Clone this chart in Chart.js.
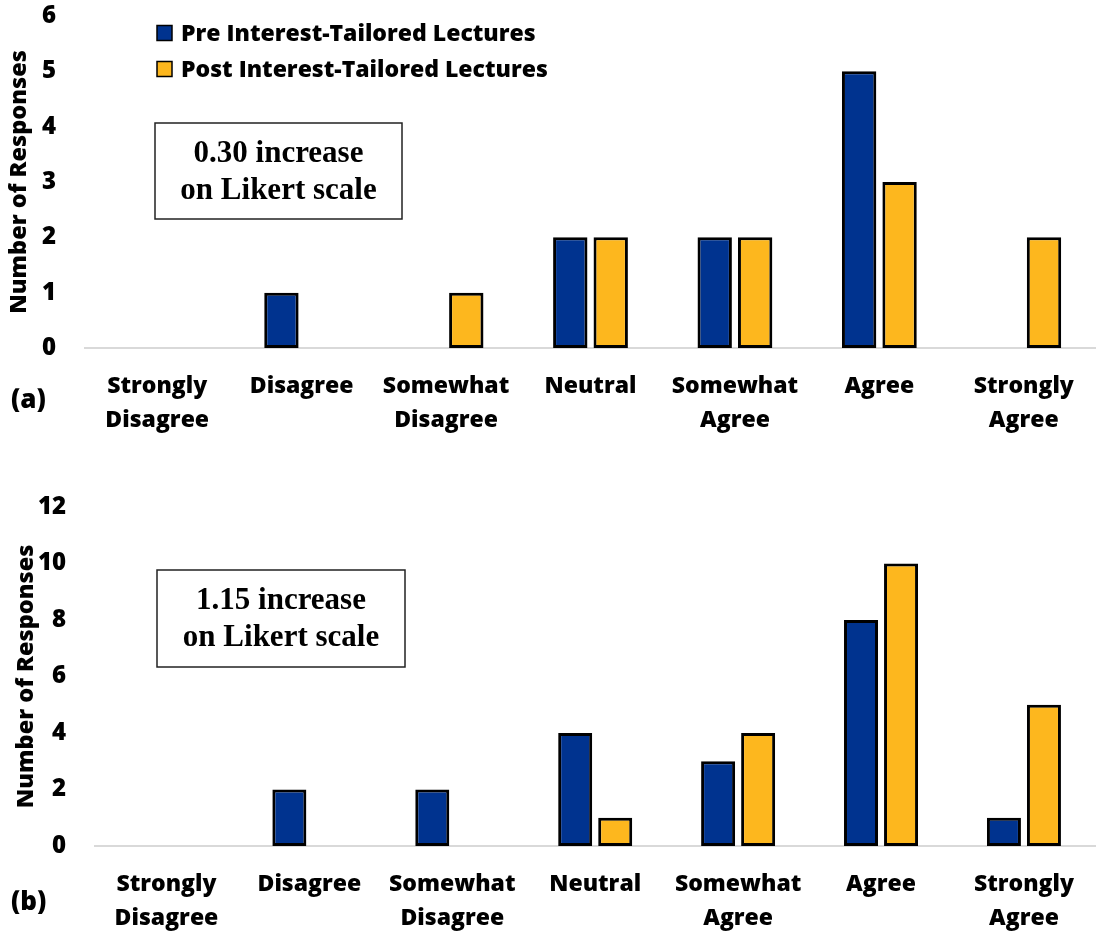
<!DOCTYPE html>
<html>
<head>
<meta charset="utf-8">
<script src="https://cdn.jsdelivr.net/npm/chart.js@4.4.1/dist/chart.umd.min.js"></script>
<style>
  body { margin: 0; background: #fff; width: 1096px; height: 936px; position: relative; overflow: hidden; }
  .wrap { position: absolute; left: 0; }
  .tag { position: absolute; left: 11px; font: 800 26px 'Open Sans', sans-serif; color: #000; line-height: 32px; }
</style>
</head>
<body>
<div class="wrap" style="top:0"><canvas id="chartA" width="1096" height="460"></canvas></div>
<div class="wrap" style="top:460px"><canvas id="chartB" width="1096" height="476"></canvas></div>
<div class="tag" style="top:382px">(a)</div>
<div class="tag" style="top:884px">(b)</div>

<script>
// Likert categories (shared by both panels)
const categories = [
  ['Strongly', 'Disagree'], 'Disagree', ['Somewhat', 'Disagree'], 'Neutral',
  ['Somewhat', 'Agree'], 'Agree', ['Strongly', 'Agree']
];
const seriesNames = ['Pre Interest-Tailored Lectures', 'Post Interest-Tailored Lectures'];

// panel (a)
const preA = [0, 1, 0, 2, 2, 5, 0];
const postA = [0, 0, 1, 2, 2, 3, 2];
const noteA = ['0.30 increase', 'on Likert scale'];

// panel (b)
const preB = [0, 2, 2, 4, 3, 8, 1];
const postB = [0, 0, 0, 1, 4, 10, 5];
const noteB = ['1.15 increase', 'on Likert scale'];

const BLUE = '#00338f';
const GOLD = '#fdb71e';
const FONT = "'Open Sans', sans-serif";
const WEIGHT = '800';

// draws the in-plot legend and the text box
const extras = {
  id: 'extras',
  afterDraw(chart, args, opts) {
    const ctx = chart.ctx;
    ctx.save();
    if (opts.legend) {
      chart.data.datasets.forEach((ds, i) => {
        const y = opts.legend.y + i * 36;
        ctx.fillStyle = ds.backgroundColor;
        ctx.fillRect(opts.legend.x, y - 7.5, 15, 15);
        ctx.strokeStyle = '#000';
        ctx.lineWidth = 1.5;
        ctx.strokeRect(opts.legend.x, y - 7.5, 15, 15);
        ctx.fillStyle = '#000';
        ctx.font = WEIGHT + ' 23px ' + FONT;
        ctx.textBaseline = 'middle';
        ctx.textAlign = 'left';
        ctx.fillText(ds.label, opts.legend.x + 24, y + 1);
      });
    }
    if (opts.note) {
      const n = opts.note;
      ctx.fillStyle = '#fff';
      ctx.fillRect(n.x, n.y, n.w, n.h);
      ctx.strokeStyle = '#222';
      ctx.lineWidth = 1.5;
      ctx.strokeRect(n.x, n.y, n.w, n.h);
      ctx.fillStyle = '#000';
      ctx.font = "bold 31px 'Liberation Serif', serif";
      ctx.textAlign = 'center';
      ctx.textBaseline = 'middle';
      n.lines.forEach((t, i) => ctx.fillText(t, n.x + n.w / 2, n.y + 31 + i * 37));
    }
    ctx.restore();
  }
};

function makeChart(id, pre, post, yMax, step, cfg) {
  const dataset = (label, data, color) => ({
    label: label,
    data: data,
    backgroundColor: color,
    borderColor: '#000',
    borderWidth: c => (c.raw === 0 ? 0 : 3),
    borderSkipped: false,
    categoryPercentage: 0.56,
    barPercentage: 0.85
  });

  return new Chart(document.getElementById(id), {
    type: 'bar',
    data: {
      labels: categories,
      datasets: [dataset(seriesNames[0], pre, BLUE), dataset(seriesNames[1], post, GOLD)]
    },
    options: {
      responsive: false,
      animation: false,
      layout: { padding: { top: cfg.top, left: 0, right: 0, bottom: 0 } },
      plugins: {
        legend: { display: false },
        tooltip: { enabled: false },
        extras: { legend: cfg.legend, note: cfg.note }
      },
      scales: {
        x: {
          grid: { display: false, drawTicks: false },
          border: { display: true, color: '#d9d9d9', width: 2 },
          ticks: { color: '#000', padding: 22, maxRotation: 0, autoSkip: false,
                   font: { family: FONT, size: 23, weight: WEIGHT, lineHeight: 1.45 } },
          afterFit: s => { s.height = cfg.xHeight; }
        },
        y: {
          min: 0,
          max: yMax,
          grid: { display: false, drawTicks: false },
          border: { display: false },
          ticks: { stepSize: step, color: '#000', padding: 29,
                   font: { family: FONT, size: 24, weight: WEIGHT } },
          title: { display: true, text: 'Number of Responses', color: '#000',
                   padding: { top: cfg.titlePad, bottom: 0 },
                   font: { family: FONT, size: 23.5, weight: WEIGHT } },
          afterFit: s => {
            s.width = cfg.yWidth;
            // keep the tick padding from pushing the plot area down
            s.paddingTop = 0;
            s.paddingBottom = 0;
          }
        }
      }
    },
    plugins: [extras]
  });
}

makeChart('chartA', preA, postA, 6, 1, {
  top: 16, xHeight: 112, yWidth: 85, titlePad: 5,
  legend: { x: 157, y: 33 },
  note: { x: 155, y: 123, w: 247, h: 96, lines: noteA }
});

makeChart('chartB', preB, postB, 12, 2, {
  top: 47, xHeight: 90, yWidth: 95, titlePad: 12,
  legend: null,
  note: { x: 157, y: 110, w: 248, h: 97, lines: noteB }
});
</script>
</body>
</html>
